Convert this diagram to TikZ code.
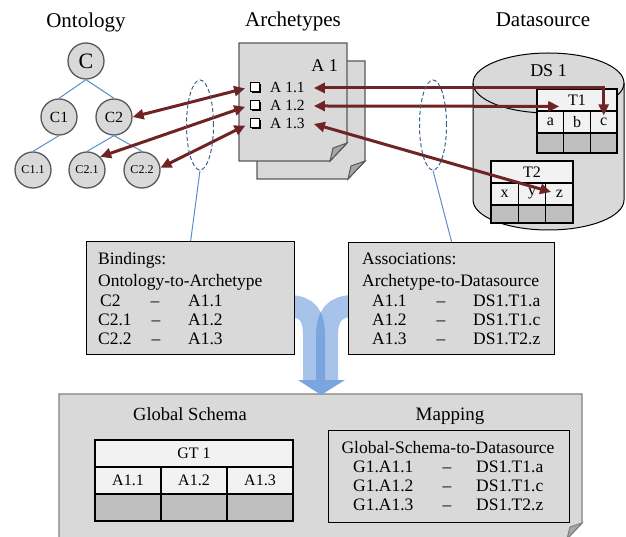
\documentclass[tikz,border=0pt]{standalone}
\usepackage{fontspec}
\setmainfont{Liberation Serif}
\usetikzlibrary{arrows.meta,shapes.geometric,calc,shadows}

\definecolor{paper}{HTML}{D9D9D9}
\definecolor{foldgray}{HTML}{A6A6A6}
\definecolor{edgegray}{HTML}{595959}
\definecolor{framegray}{HTML}{808080}
\definecolor{cellhead}{HTML}{F2F2F2}
\definecolor{celldark}{HTML}{BFBFBF}
\definecolor{linkred}{HTML}{6E2424}
\definecolor{treeblue}{HTML}{5B8DC9}
\definecolor{ringblue}{HTML}{3F6289}
\definecolor{flowblue}{HTML}{4F87D5}
\definecolor{flowhead}{HTML}{7BA5DF}

\begin{document}
\begin{tikzpicture}[x=1pt,y=-1pt,
  heading/.style={inner sep=0, anchor=base, font=\fontsize{21}{24}\selectfont},
  body/.style={inner sep=0, anchor=base west, font=\fontsize{17.5}{20}\selectfont},
  bodymid/.style={inner sep=0, anchor=base, font=\fontsize{17.5}{20}\selectfont},
  concept/.style={circle, draw=edgegray, line width=1.3pt, fill=paper, minimum size=36pt, inner sep=0},
  tree/.style={draw=treeblue, line width=1pt},
  ring/.style={ellipse, draw=ringblue, line width=1pt, dash pattern=on 4pt off 2.5pt, minimum width=27pt, minimum height=90pt, inner sep=0},
  item/.style={inner sep=2pt, anchor=base west, font=\fontsize{15.5}{18}\selectfont},
  chk/.style={draw, fill=white, line width=0.7pt, minimum size=8.5pt, inner sep=0,
    general shadow={fill=black, shadow xshift=1.4pt, shadow yshift=-1.4pt}},
  link/.style={draw=linkred, line width=3pt, {Triangle[length=11pt,width=10pt]}-{Triangle[length=11pt,width=10pt]}},
  cell/.style={draw, line width=1.2pt, inner sep=0, fill=cellhead, font=\fontsize{16}{18}\selectfont},
  shade/.style={cell, fill=celldark},
  box/.style={draw, line width=1.3pt, fill=paper, inner sep=0, anchor=north west},
  page/.style={draw=edgegray, line width=1.3pt, fill=paper},
  pagefold/.style={draw=edgegray, line width=1pt, fill=foldgray},
  flow/.style={draw=flowblue, opacity=0.5, line width=22pt}
]
\useasboundingbox (0,0) rectangle (626,537);

% ---------- column headings ----------
\node[heading] (hOnt) at (86,28) {Ontology};
\node[heading] (hArc) at (293,27) {Archetypes};
\node[heading] (hDs)  at (543,27) {Datasource};

% ---------- ontology tree ----------
\node[concept, font=\fontsize{22}{24}\selectfont] (C) at (86,61) {C};
\node[concept, font=\fontsize{15.5}{18}\selectfont] (C1) at (59,117) {C1};
\node[concept, font=\fontsize{15.5}{18}\selectfont] (C2) at (114,117) {C2};
\node[concept, font=\fontsize{12}{14}\selectfont] (C11) at (33,170) {C1.1};
\node[concept, font=\fontsize{12}{14}\selectfont] (C21) at (87,170) {C2.1};
\node[concept, font=\fontsize{12}{14}\selectfont] (C22) at (142,170) {C2.2};
\draw[tree] (C.south) -- (C1.north);
\draw[tree] (C.south) -- (C2.north);
\draw[tree] (C1.south) -- (C11.north);
\draw[tree] (C2.south) -- (C21.north);
\draw[tree] (C2.south) -- (C22.north);

% ---------- archetype pages ----------
\draw[page] (257,61) -- (365,61) -- (365,161) -- (348,179) -- (257,179) -- cycle;
\draw[pagefold] (365,161) -- (348,179) -- (351,166) -- cycle;
\draw[page] (239,43) -- (347,43) -- (347,143) -- (330,161) -- (239,161) -- cycle;
\draw[pagefold] (347,143) -- (330,161) -- (333,148) -- cycle;
\node[inner sep=0, anchor=base, font=\fontsize{18}{20}\selectfont] (A1) at (324.5,72) {A 1};
\node[chk] (k1) at (255,87) {};
\node[chk] (k2) at (255,105) {};
\node[chk] (k3) at (255,123) {};
\node[item] (a11) at (268,93) {A 1.1};
\node[item] (a12) at (268,111) {A 1.2};
\node[item] (a13) at (268,129) {A 1.3};

% ---------- datasource cylinder ----------
\draw[fill=paper, line width=1pt] (473,83) -- (473,200)
  arc[start angle=180, end angle=0, x radius=75.5, y radius=30] -- (624,83)
  arc[start angle=0, end angle=-180, x radius=75.5, y radius=30] -- cycle;
\draw[line width=1pt] (473,83) arc[start angle=180, end angle=0, x radius=75.5, y radius=30];
\node[inner sep=0, anchor=base, font=\fontsize{18}{20}\selectfont] (ds1) at (548.5,77) {DS 1};

% table T1
\node[cell, minimum width=80pt, minimum height=22pt] (t1h) at (577,100) {T1};
\node[cell, minimum width=26.67pt, minimum height=22pt] (t1a) at (550.3,122) {a};
\node[cell, minimum width=26.67pt, minimum height=22pt] (t1b) at (577,122) {b};
\node[cell, minimum width=26.67pt, minimum height=22pt] (t1c) at (603.7,122) {c};
\node[shade, minimum width=26.67pt, minimum height=20pt] (t1ag) at (550.3,143) {};
\node[shade, minimum width=26.67pt, minimum height=20pt] (t1bg) at (577,143) {};
\node[shade, minimum width=26.67pt, minimum height=20pt] (t1cg) at (603.7,143) {};

% table T2
\node[cell, minimum width=82pt, minimum height=22pt] (t2h) at (532,172) {T2};
\node[cell, minimum width=27.33pt, minimum height=22pt] (t2x) at (504.7,194) {x};
\node[cell, minimum width=27.33pt, minimum height=22pt] (t2y) at (532,194) {y};
\node[cell, minimum width=27.33pt, minimum height=22pt] (t2z) at (559.3,194) {z};
\node[shade, minimum width=27.33pt, minimum height=18pt] (t2xg) at (504.7,214) {};
\node[shade, minimum width=27.33pt, minimum height=18pt] (t2yg) at (532,214) {};
\node[shade, minimum width=27.33pt, minimum height=18pt] (t2zg) at (559.3,214) {};

% ---------- links between ontology, archetype and datasource ----------
\draw[link, shorten >=5.5pt] (C2.east) -- (k1.west);
\draw[link, shorten >=5.5pt] (C21.45) -- (k2.west);
\draw[link, shorten >=5.5pt] (C22.7) -- (k3.west);
\draw[link] ([xshift=7pt]a11.east) -| ([yshift=-5pt]t1c.north);
\draw[link] ([xshift=7pt]a12.east) -- ($(t1a.north east)+(-5,-4)$);
\draw[link] ([xshift=7pt]a13.east) -- ($(t2z.west)+(6,-2)$);

% ---------- dashed groupings ----------
\node[ring] (e1) at (200,125) {};
\node[ring] (e2) at (433,125) {};

% ---------- global box ----------
\draw[draw=framegray, line width=1.3pt, fill=paper] (59,394) -- (582,394) -- (582,523) -- (567,539) -- (59,539) -- cycle;
\draw[draw=framegray, line width=1pt, fill=foldgray] (582,523) -- (567,539) -- (570,527) -- cycle;

% merging flow arrow
\draw[flow] (288,306) .. controls (308,306) and (314,316) .. (314,336) -- (314,381);
\draw[flow] (354,306) .. controls (334,306) and (327,316) .. (327,336) -- (327,381);
\fill[flowhead] (298,380) -- (345,380) -- (321,395) -- cycle;

% ---------- bindings box ----------
\node[box, minimum width=208pt, minimum height=113pt] (bind) at (86,241) {};
\draw[tree] (e1.south) -- (bind.north);
\node[body] (bt1) at (98,265) {Bindings:};
\node[body] (bt2) at (98,287) {Ontology-to-Archetype};
\node[body] (br1a) at (100,306) {C2};
\node[bodymid] (br1b) at (155,306) {–};
\node[body] (br1c) at (188,306) {A1.1};
\node[body] (br2a) at (98,325) {C2.1};
\node[bodymid] (br2b) at (156,325) {–};
\node[body] (br2c) at (188,325) {A1.2};
\node[body] (br3a) at (98,344) {C2.2};
\node[bodymid] (br3b) at (156,344) {–};
\node[body] (br3c) at (188,344) {A1.3};

% ---------- associations box ----------
\node[box, minimum width=206pt, minimum height=112pt] (assoc) at (348,242) {};
\draw[tree] (e2.south) -- (assoc.north);
\node[body] (at1) at (362,265) {Associations:};
\node[body] (at2) at (362,287) {Archetype-to-Datasource};
\node[body] (ar1a) at (372,306) {A1.1};
\node[bodymid] (ar1b) at (441,306) {–};
\node[body] (ar1c) at (473,306) {DS1.T1.a};
\node[body] (ar2a) at (372,325) {A1.2};
\node[bodymid] (ar2b) at (441,325) {–};
\node[body] (ar2c) at (473,325) {DS1.T1.c};
\node[body] (ar3a) at (372,344) {A1.3};
\node[bodymid] (ar3b) at (441,344) {–};
\node[body] (ar3c) at (473,344) {DS1.T2.z};

% ---------- global schema ----------
\node[inner sep=0, anchor=base, font=\fontsize{18.5}{21}\selectfont] (gsT) at (190,420) {Global Schema};
\node[cell, minimum width=198pt, minimum height=27pt] (gth) at (194,453.5) {GT 1};
\node[cell, minimum width=66pt, minimum height=27pt] (g1) at (128,480.5) {A1.1};
\node[cell, minimum width=66pt, minimum height=27pt] (g2) at (194,480.5) {A1.2};
\node[cell, minimum width=66pt, minimum height=27pt] (g3) at (260,480.5) {A1.3};
\node[shade, minimum width=66pt, minimum height=27pt] (g1g) at (128,507.5) {};
\node[shade, minimum width=66pt, minimum height=27pt] (g2g) at (194,507.5) {};
\node[shade, minimum width=66pt, minimum height=27pt] (g3g) at (260,507.5) {};

% ---------- mapping ----------
\node[inner sep=0, anchor=base, font=\fontsize{19}{21}\selectfont] (mapT) at (450,420) {Mapping};
\node[box, minimum width=241pt, minimum height=92pt] (mapbox) at (328,430) {};
\node[bodymid] (mt) at (448,453) {Global-Schema-to-Datasource};
\node[body] (mr1a) at (353,472) {G1.A1.1};
\node[bodymid] (mr1b) at (447,472) {–};
\node[body] (mr1c) at (476,472) {DS1.T1.a};
\node[body] (mr2a) at (353,491) {G1.A1.2};
\node[bodymid] (mr2b) at (447,491) {–};
\node[body] (mr2c) at (476,491) {DS1.T1.c};
\node[body] (mr3a) at (353,510) {G1.A1.3};
\node[bodymid] (mr3b) at (447,510) {–};
\node[body] (mr3c) at (476,510) {DS1.T2.z};
\end{tikzpicture}
\end{document}
